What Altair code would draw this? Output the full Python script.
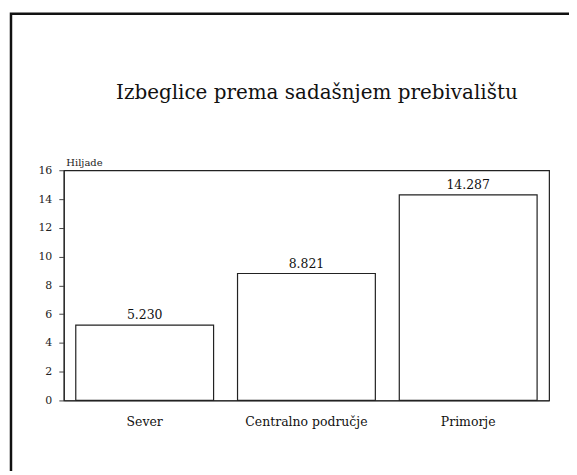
import altair as alt
import pandas as pd

categories = ["Sever", "Centralno područje", "Primorje"]
values = [5.230, 8.821, 14.287]
labels = ["5.230", "8.821", "14.287"]
title_text = "Izbeglice prema sadašnjem prebivalištu"

df = pd.DataFrame({"region": categories, "value": values, "label": labels})

FONT = "DejaVu Serif"

x = alt.X("region:N", sort=categories, title=None,
          scale=alt.Scale(paddingInner=0.148, paddingOuter=0.074),
          axis=alt.Axis(labelAngle=0, ticks=False, labelPadding=15,
                        labelFontSize=12.5, labelFont=FONT, labelColor="#111",
                        domainColor="#222"))
y = alt.Y("value:Q", title="Hiljade",
          scale=alt.Scale(domain=[0, 16], nice=False),
          axis=alt.Axis(values=list(range(0, 17, 2)), grid=False, tickSize=5,
                        labelPadding=7, labelFontSize=11, labelFont=FONT,
                        labelColor="#222", domainColor="#222", tickColor="#444",
                        titleAngle=0, titleX=2, titleY=-3, titleAlign="left",
                        titleBaseline="bottom", titleFont=FONT, titleFontSize=10,
                        titleFontWeight="normal", titleColor="#222"))

bars = alt.Chart(df).mark_bar(fill="white", stroke="#222", strokeWidth=1.2).encode(x=x, y=y)
text = alt.Chart(df).mark_text(dy=-3, baseline="bottom", font=FONT, fontSize=12.5,
                               color="#111").encode(x=x, y=y, text="label:N")

frame = alt.Chart(alt.Data(values=[{}])).mark_rect(
    fill=None, stroke="#111", strokeWidth=2.5, clip=False
).encode(x=alt.value(-53), x2=alt.value(600), y=alt.value(-157), y2=alt.value(420))

title = alt.Chart(alt.Data(values=[{"t": title_text}])).mark_text(
    font=FONT, fontSize=20, color="#111", align="center", baseline="alphabetic", clip=False
).encode(x=alt.value(254), y=alt.value(-72), text="t:N")

chart = alt.layer(frame, title, bars, text).properties(
    width=487, height=231,
    autosize=alt.AutoSizeParams(type="none"),
    padding={"left": 56, "top": 162, "right": 20, "bottom": 70},
).configure(background="white").configure_view(stroke="#222", strokeWidth=1.2)

chart.save("out.html", embed_options={"renderer": "svg", "actions": False})
